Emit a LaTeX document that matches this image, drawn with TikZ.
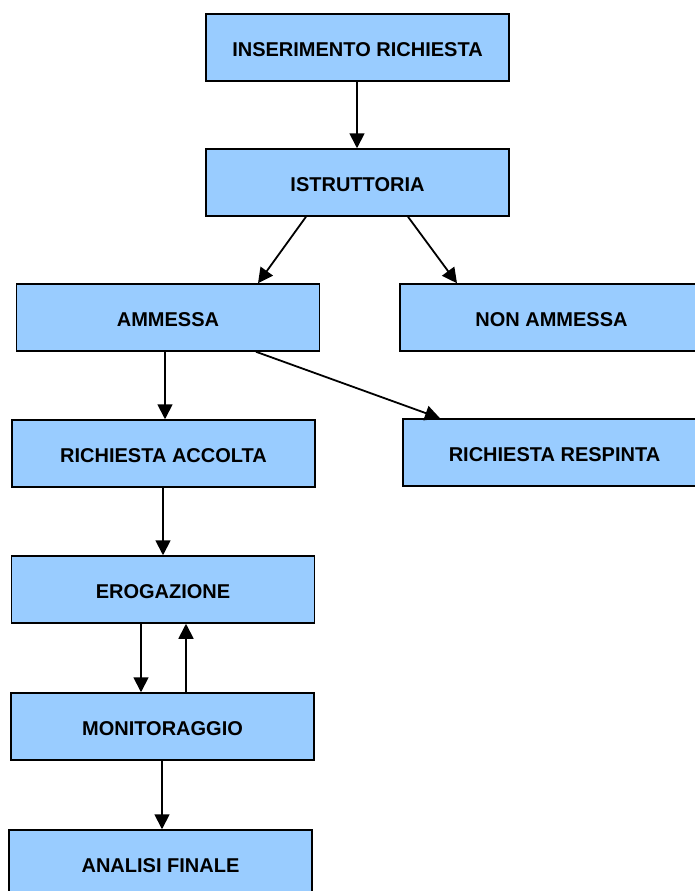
\documentclass[tikz,border=0pt]{standalone}
\usepackage{fontspec}
\setmainfont{Liberation Sans}
\usetikzlibrary{arrows.meta,positioning}
\definecolor{boxblue}{HTML}{99CCFF}
\tikzset{
  basic/.style  = {draw, line width=1.5pt, rectangle, fill=boxblue,
                   font=\fontsize{20}{23}\selectfont\bfseries},
  stage/.style  = {basic, minimum width=303pt, minimum height=67pt, inner sep=0pt,
                   text height=18pt, text depth=0pt},
  link/.style   = {line width=1.8pt, -{Triangle[length=15pt,width=15pt]}}
}
\begin{document}
\begin{tikzpicture}[x=1pt,y=-1pt]
\useasboundingbox (0,0) rectangle (694,891);
% stages
\node[stage] (ins)  at (357.5,47.5)  {INSERIMENTO RICHIESTA};
\node[stage] (ist)  at (357.5,182.5) {ISTRUTTORIA};
\node[stage] (amm)  at (168,317.5)   {AMMESSA};
\node[stage] (non)  at (551.5,317.5) {NON AMMESSA};
\node[stage] (acc)  at (163.5,453.5) {RICHIESTA ACCOLTA};
\node[stage] (resp) at (554.5,452.5) {RICHIESTA RESPINTA};
\node[stage] (ero)  at (163,589.5)   {EROGAZIONE};
\node[stage] (mon)  at (162.5,726.5) {MONITORAGGIO};
\node[stage] (ana)  at (160.5,863.5) {ANALISI FINALE};
% links
\draw[link] ([xshift=-0.5pt]ins.south) -- ([xshift=-0.5pt]ist.north);
\draw[link] ([xshift=-51.5pt]ist.south) -- ([xshift=90pt]amm.north);
\draw[link] ([xshift=50.5pt]ist.south) -- ([xshift=-94.5pt]non.north);
\draw[link] ([xshift=-3pt]amm.south) -- ([xshift=1.5pt]acc.north);
\draw[link] ([xshift=88pt]amm.south) -- ([xshift=-114.5pt]resp.north);
\draw[link] ([xshift=-0.5pt]acc.south) -- ([xshift=-0.5pt]acc.south |- ero.north);
\draw[link] ([xshift=-22pt]ero.south) -- ([xshift=-22pt]ero.south |- mon.north);
\draw[link] ([xshift=23.5pt]mon.north) -- ([xshift=23.5pt]mon.north |- ero.south);
\draw[link] ([xshift=-0.5pt]mon.south) -- ([xshift=-0.5pt]mon.south |- ana.north);
\end{tikzpicture}
\end{document}
